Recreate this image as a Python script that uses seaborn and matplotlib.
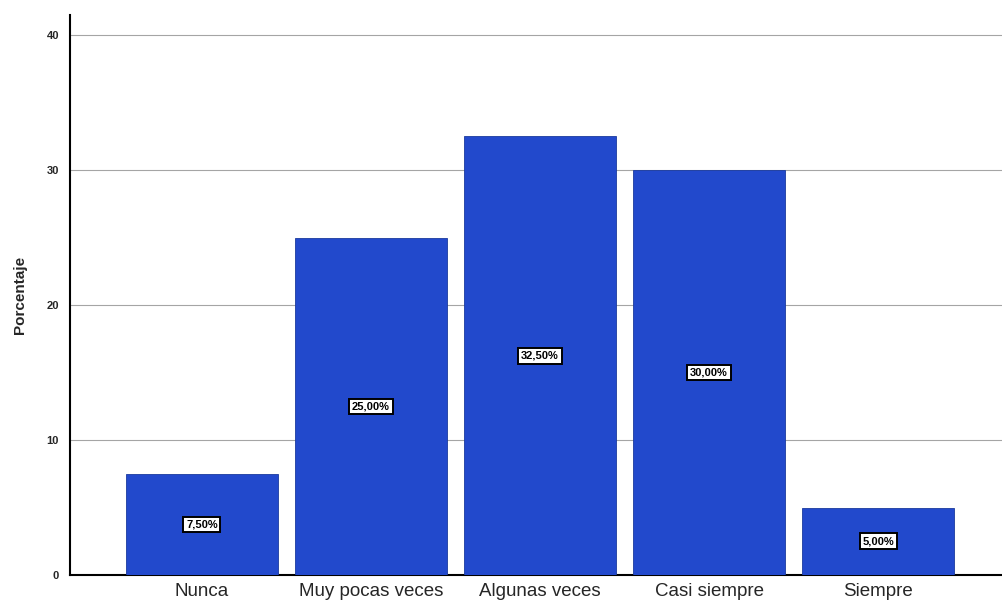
import matplotlib.pyplot as plt
import pandas as pd
import seaborn as sns

# values (percent)
categories = ["Nunca", "Muy pocas veces", "Algunas veces", "Casi siempre", "Siempre"]
percentages = [7.5, 25.0, 32.5, 30.0, 5.0]
bar_labels = ["7,50%", "25,00%", "32,50%", "30,00%", "5,00%"]
y_ticks = [0, 10, 20, 30, 40]

BAR_COLOR = "#2249cc"

df = pd.DataFrame({"Categoria": categories, "Porcentaje": percentages})

sns.set_style("white")
plt.rcParams["font.family"] = ["Liberation Sans", "DejaVu Sans"]

fig = plt.figure(figsize=(10.02, 6.05), dpi=100)
ax = fig.add_axes([70 / 1002, 30 / 605, 940 / 1002, 560 / 605])

sns.barplot(
    data=df,
    x="Categoria",
    y="Porcentaje",
    color=BAR_COLOR,
    width=0.9,
    saturation=1,
    edgecolor="#1a3a9e",
    linewidth=0.6,
    ax=ax,
    zorder=3,
)

for i, (val, lab) in enumerate(zip(percentages, bar_labels)):
    ax.text(
        i,
        val / 2,
        lab,
        ha="center",
        va="center",
        fontsize=8,
        fontweight="bold",
        color="black",
        zorder=5,
        bbox=dict(boxstyle="square,pad=0.25", facecolor="white", edgecolor="black", linewidth=1.4),
    )

ax.set_ylim(0, 41.5)
ax.set_xlim(-0.78, 4.78)
ax.set_yticks(y_ticks)
ax.set_yticklabels([str(t) for t in y_ticks], fontsize=8, fontweight="bold")
ax.yaxis.grid(True, color="#a5a5a5", linewidth=0.8, zorder=0)
ax.set_axisbelow(True)

ax.set_xlabel("")
ax.set_ylabel("Porcentaje", fontsize=11, fontweight="bold", labelpad=14)
ax.tick_params(axis="x", labelsize=13.5, length=0, pad=6)
ax.tick_params(axis="y", length=0, pad=8)

for side in ["top", "right"]:
    ax.spines[side].set_visible(False)
ax.spines["left"].set_color("black")
ax.spines["left"].set_linewidth(1.5)
ax.spines["bottom"].set_color("black")
ax.spines["bottom"].set_linewidth(1.5)

fig.savefig("out.png", dpi=100)
plt.close(fig)
